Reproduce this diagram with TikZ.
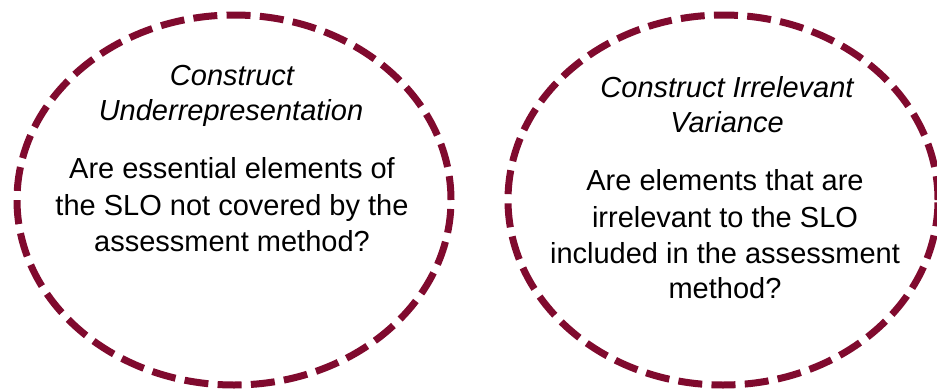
\documentclass[tikz,border=0pt]{standalone}
\usepackage{fontspec}
\setmainfont{Liberation Sans}
\usetikzlibrary{shapes.geometric}
\definecolor{maroon}{RGB}{128,10,46}
\begin{document}
\begin{tikzpicture}[x=1pt,y=-1pt,
  ring/.style={ellipse, draw=maroon, line width=7pt, dash pattern=on 24pt off 9.3pt,
    inner sep=0pt, fill=white},
  heading/.style={anchor=base, font=\fontsize{29}{35}\selectfont\itshape, text=black},
  question/.style={anchor=base, font=\fontsize{29}{36.5}\selectfont, text=black}]
  \useasboundingbox[fill=white] (0,0) rectangle (937,389);

  % left circle: construct underrepresentation
  \node[ring, minimum width=434pt, minimum height=370pt] (left) at (234,200) {};
  \node[heading] (lt1) at (232,85) {Construct};
  \node[heading] (lt2) at (231,120) {Underrepresentation};
  \node[question] (lq1) at (232,178) {Are essential elements of};
  \node[question] (lq2) at (232,215) {the SLO not covered by the};
  \node[question] (lq3) at (232,251) {assessment method?};

  % right circle: construct irrelevant variance
  \node[ring, minimum width=430pt, minimum height=370pt] (right) at (723,200) {};
  \node[heading] (rt1) at (727,97) {Construct Irrelevant};
  \node[heading] (rt2) at (727,132) {Variance};
  \node[question] (rq1) at (725,190) {Are elements that are};
  \node[question] (rq2) at (725,227) {irrelevant to the SLO};
  \node[question] (rq3) at (725,263) {included in the assessment};
  \node[question] (rq4) at (725,298) {method?};
\end{tikzpicture}
\end{document}
